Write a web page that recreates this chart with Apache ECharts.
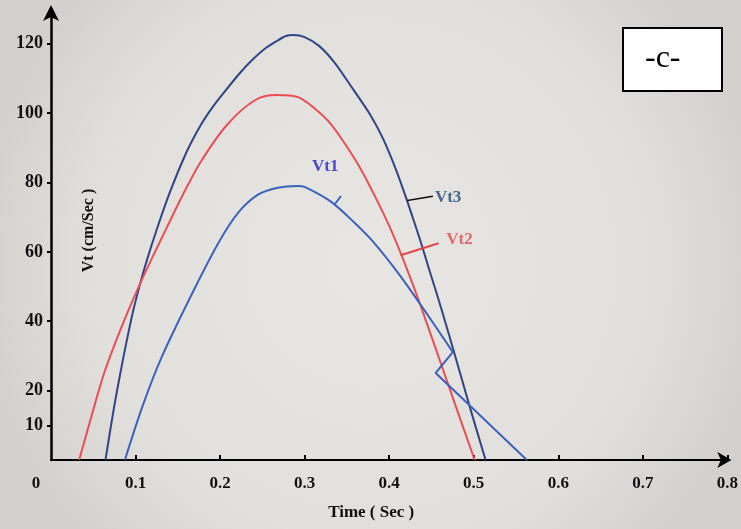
<!DOCTYPE html>
<html>
<head>
<meta charset="utf-8">
<script src="https://cdn.jsdelivr.net/npm/echarts@6/dist/echarts.min.js"></script>
<style>html,body{margin:0;padding:0;}#c{width:741px;height:529px;}</style>
</head>
<body>
<div id="c"></div>
<script>
// Vt3 (dark blue), Vt2 (red), Vt1 (blue) : [time (s), Vt (cm/s)]
const vt3 = [[0.0644,0],[0.0736,13.8],[0.0816,24.5],[0.0885,33.1],[0.0966,42.4],[0.1046,50.1],[0.1138,57.9],[0.1253,66.6],[0.1402,76.9],[0.1598,88.5],[0.1770,96.5],[0.1920,102.0],[0.2078,106.9],[0.2222,111.2],[0.2367,115.0],[0.2522,118.4],[0.2667,120.7],[0.2778,122.2],[0.2867,122.5],[0.300,121.9],[0.3174,119.3],[0.3349,114.7],[0.3547,107.8],[0.3779,99.4],[0.3930,92.5],[0.4079,83.8],[0.4191,76.2],[0.4292,68.9],[0.4382,62.2],[0.4472,55.0],[0.4607,44.4],[0.4753,32.3],[0.4944,16.1],[0.514,0]];
const vt2 = [[0.0333,0],[0.0483,13.0],[0.0621,24.5],[0.0759,33.7],[0.0908,42.7],[0.1057,51.0],[0.1195,58.2],[0.1368,66.9],[0.1552,76.1],[0.1770,85.9],[0.2078,96.5],[0.2411,103.7],[0.2667,105.2],[0.2922,104.6],[0.3116,101.4],[0.3291,97.4],[0.3465,91.6],[0.3663,83.9],[0.3849,75.2],[0.4011,66.9],[0.4135,59.7],[0.4247,52.7],[0.4382,43.8],[0.4573,30.5],[0.4753,17.9],[0.5011,0]];
const vt1Curve = [[0.0874,0],[0.108,15.3],[0.131,29.7],[0.169,49.0],[0.200,63.4],[0.2222,71.5],[0.2444,76.4],[0.2667,78.4],[0.2922,79.0],[0.300,78.7],[0.3314,74.4],[0.3581,68.6],[0.3814,62.8],[0.4124,53.3],[0.4416,43.2],[0.4753,31.1]];
const vt1Tail = [[0.4753,31.1],[0.455,25.1],[0.5628,0]];
// annotation leaders and labels
const vt1Leader = [[0.3349,73.5],[0.3430,76.1]];
const vt2Leader = [[0.4135,59.0],[0.4584,62.5]];
const vt3Leader = [[0.4213,74.8],[0.4517,76.0]];
const seriesLabels = [[0.3244,84.7,'Vt1','#2020c8'],[0.4831,63.4,'Vt2','#e2474d'],[0.4697,75.5,'Vt3','#1a4677']];
// tick labels
const xTicks = [0,0.1,0.2,0.3,0.4,0.5,0.6,0.7,0.8];
const yTicks = [10,20,40,60,80,100,120];

const SERIF = '"Liberation Serif","DejaVu Serif",serif';
const chart = echarts.init(document.getElementById('c'));
const lineS = (data, color, smooth) => ({
  type:'line', data, showSymbol:false, symbol:'none', smooth: smooth,
  lineStyle:{color, width:2}, silent:true, z:3
});
chart.setOption({
  animation:false,
  backgroundColor:{type:'radial', x:0.5, y:0.5, r:0.75,
    colorStops:[{offset:0,color:'#e8e6e3'},{offset:0.7,color:'#e2e0dd'},{offset:1,color:'#d3d1ce'}]},
  title:{text:'-c-', left:623, top:29, backgroundColor:'#ffffff', borderColor:'#000', borderWidth:2,
    padding:[15,42,16,22],
    textStyle:{fontFamily:SERIF, fontSize:32, fontWeight:'normal', color:'#000', lineHeight:30}},
  grid:{left:51, right:6, top:9, bottom:69, containLabel:false},
  xAxis:{type:'value', min:0, max:0.8,
    name:'Time ( Sec )', nameLocation:'middle', nameGap:44,
    nameTextStyle:{fontFamily:SERIF, fontWeight:'bold', fontSize:17, color:'#111', padding:[0,36,0,0]},
    axisLine:{show:true, lineStyle:{color:'#000', width:2}, symbol:['none','arrow'], symbolSize:[12,14], symbolOffset:[0,4]},
    axisTick:{show:true, inside:true, length:5, lineStyle:{color:'#000', width:2}, customValues:xTicks.slice(1)},
    axisLabel:{customValues:xTicks, margin:15, fontFamily:SERIF, fontWeight:'bold', fontSize:17, color:'#111',
      formatter:v => v === 0 ? '{z|0}' : String(v),
      rich:{z:{fontFamily:SERIF, fontWeight:'bold', fontSize:17, color:'#111', padding:[0,30,6,0]}}},
    splitLine:{show:false}},
  yAxis:{type:'value', min:0, max:130,
    name:'Vt (cm/Sec )', nameLocation:'middle', nameRotate:90, nameGap:-46,
    nameTextStyle:{fontFamily:SERIF, fontWeight:'bold', fontSize:16, color:'#111', padding:[0,0,0,8]},
    axisLine:{show:true, lineStyle:{color:'#000', width:2.5}, symbol:['none','arrow'], symbolSize:[12,16], symbolOffset:[0,4]},
    axisTick:{show:true, length:4, lineStyle:{color:'#000', width:2}, customValues:yTicks},
    axisLabel:{customValues:yTicks, margin:8, fontFamily:SERIF, fontWeight:'bold', fontSize:18, color:'#111'},
    splitLine:{show:false}},
  series:[
    lineS(vt3, '#2f4585', 0.3),
    lineS(vt2, '#ea4d55', 0.3),
    lineS(vt1Curve, '#3d62bd', 0.3),
    lineS(vt1Tail, '#3d62bd', false),
    {type:'line', data:vt1Leader, symbol:'none', lineStyle:{color:'#3d62bd', width:2}, silent:true},
    {type:'line', data:vt2Leader, symbol:'none', lineStyle:{color:'#e2474d', width:2}, silent:true},
    {type:'line', data:vt3Leader, symbol:'none', lineStyle:{color:'#111', width:1.5}, silent:true},
    {type:'scatter', symbolSize:0, silent:true,
      data:seriesLabels.map(d => ({value:[d[0], d[1]], name:d[2],
        label:{show:true, position:'inside', formatter:d[2], color:d[3], fontFamily:SERIF, fontWeight:'bold', fontSize:17}}))}
  ]
});
</script>
</body>
</html>
